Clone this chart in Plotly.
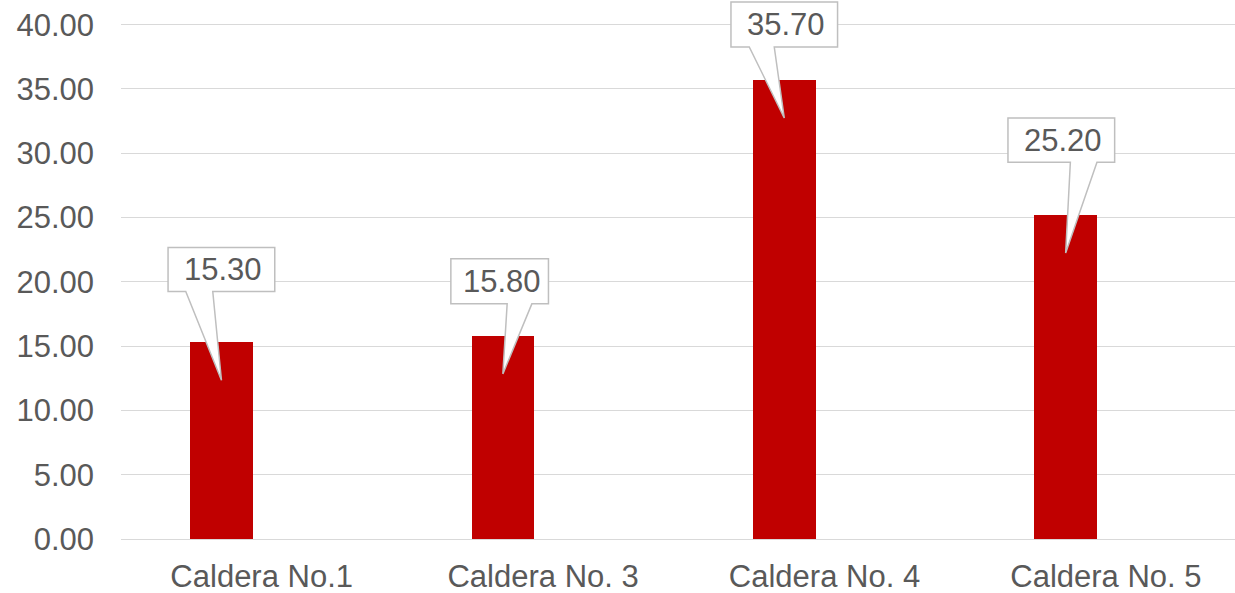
import plotly.graph_objects as go

categories = ["Caldera No.1", "Caldera No. 3", "Caldera No. 4", "Caldera No. 5"]
values = [15.30, 15.80, 35.70, 25.20]
y_ticks = [0, 5, 10, 15, 20, 25, 30, 35, 40]

# callout geometry (pixels, relative to pointer tip, y up): box L, R, bottom, top, base L, base R
callout_geom = [
    (-53.4, 53.3, 88.7, 132.7, -35.7, -8.7),
    (-52.0, 45.6, 70.0, 115.0, 4.3, 29.0),
    (-53.3, 53.3, 71.0, 116.0, -35.0, -10.0),
    (-57.7, 49.0, 90.7, 135.0, 4.7, 31.3),
]
TIP_DEPTH = 38  # px below bar top

BAR_W = 0.222
BAR_OFF = -0.254
GRAY = "#595959"
FONT = "Liberation Sans, Arial, sans-serif"

xs = list(range(len(categories)))
fig = go.Figure()
fig.add_trace(go.Bar(
    x=xs, y=values, width=BAR_W, offset=BAR_OFF,
    marker=dict(color="#C00000", line=dict(width=0)),
    hoverinfo="skip", showlegend=False,
))

shapes = []
annotations = []
for i, v in enumerate(values):
    ax = xs[i] + BAR_OFF + BAR_W / 2
    L, R, B, T, bl, br = callout_geom[i]
    ty = -TIP_DEPTH
    pts = [(L, ty + T), (R, ty + T), (R, ty + B), (br, ty + B), (0, ty),
           (bl, ty + B), (L, ty + B)]
    path = "M " + " L ".join(f"{px:.1f},{py:.1f}" for px, py in pts) + " Z"
    shapes.append(dict(
        type="path", xref="x", yref="y", xsizemode="pixel", ysizemode="pixel",
        xanchor=ax, yanchor=v, path=path, fillcolor="white",
        line=dict(color="#BFBFBF", width=1.5), layer="above",
    ))
    annotations.append(dict(
        x=ax, y=v, xref="x", yref="y", text=f"{v:.2f}", showarrow=False,
        xshift=(L + R) / 2 + 2, yshift=ty + (B + T) / 2,
        font=dict(family=FONT, size=31, color=GRAY),
    ))

unit_px = 514.3 / 40
plot_h = 593 - 54
fig.update_layout(
    width=1235, height=593,
    margin=dict(l=121, r=0, t=0, b=54),
    paper_bgcolor="white", plot_bgcolor="white",
    font=dict(family=FONT, size=31, color=GRAY),
    bargap=0,
    shapes=shapes, annotations=annotations,
    xaxis=dict(
        range=[-0.5, -0.5 + 1114 / 281.4],
        tickmode="array", tickvals=xs, ticktext=categories,
        showgrid=False, zeroline=False, showline=False, ticks="",
        tickfont=dict(family=FONT, size=31, color=GRAY),
        ticklabelstandoff=16, fixedrange=True,
    ),
    yaxis=dict(
        range=[0, plot_h / unit_px],
        tickmode="array", tickvals=y_ticks, tickformat=".2f",
        showgrid=True, gridcolor="#D9D9D9", gridwidth=1.3,
        zeroline=True, zerolinecolor="#D9D9D9", zerolinewidth=1.3,
        showline=False, ticks="",
        tickfont=dict(family=FONT, size=31, color=GRAY),
        ticklabelstandoff=26, fixedrange=True,
    ),
)

fig.write_html(
    "out.html",
    config={"displayModeBar": False},
    post_script="document.body.style.margin='0';document.body.style.overflow='hidden';",
)
